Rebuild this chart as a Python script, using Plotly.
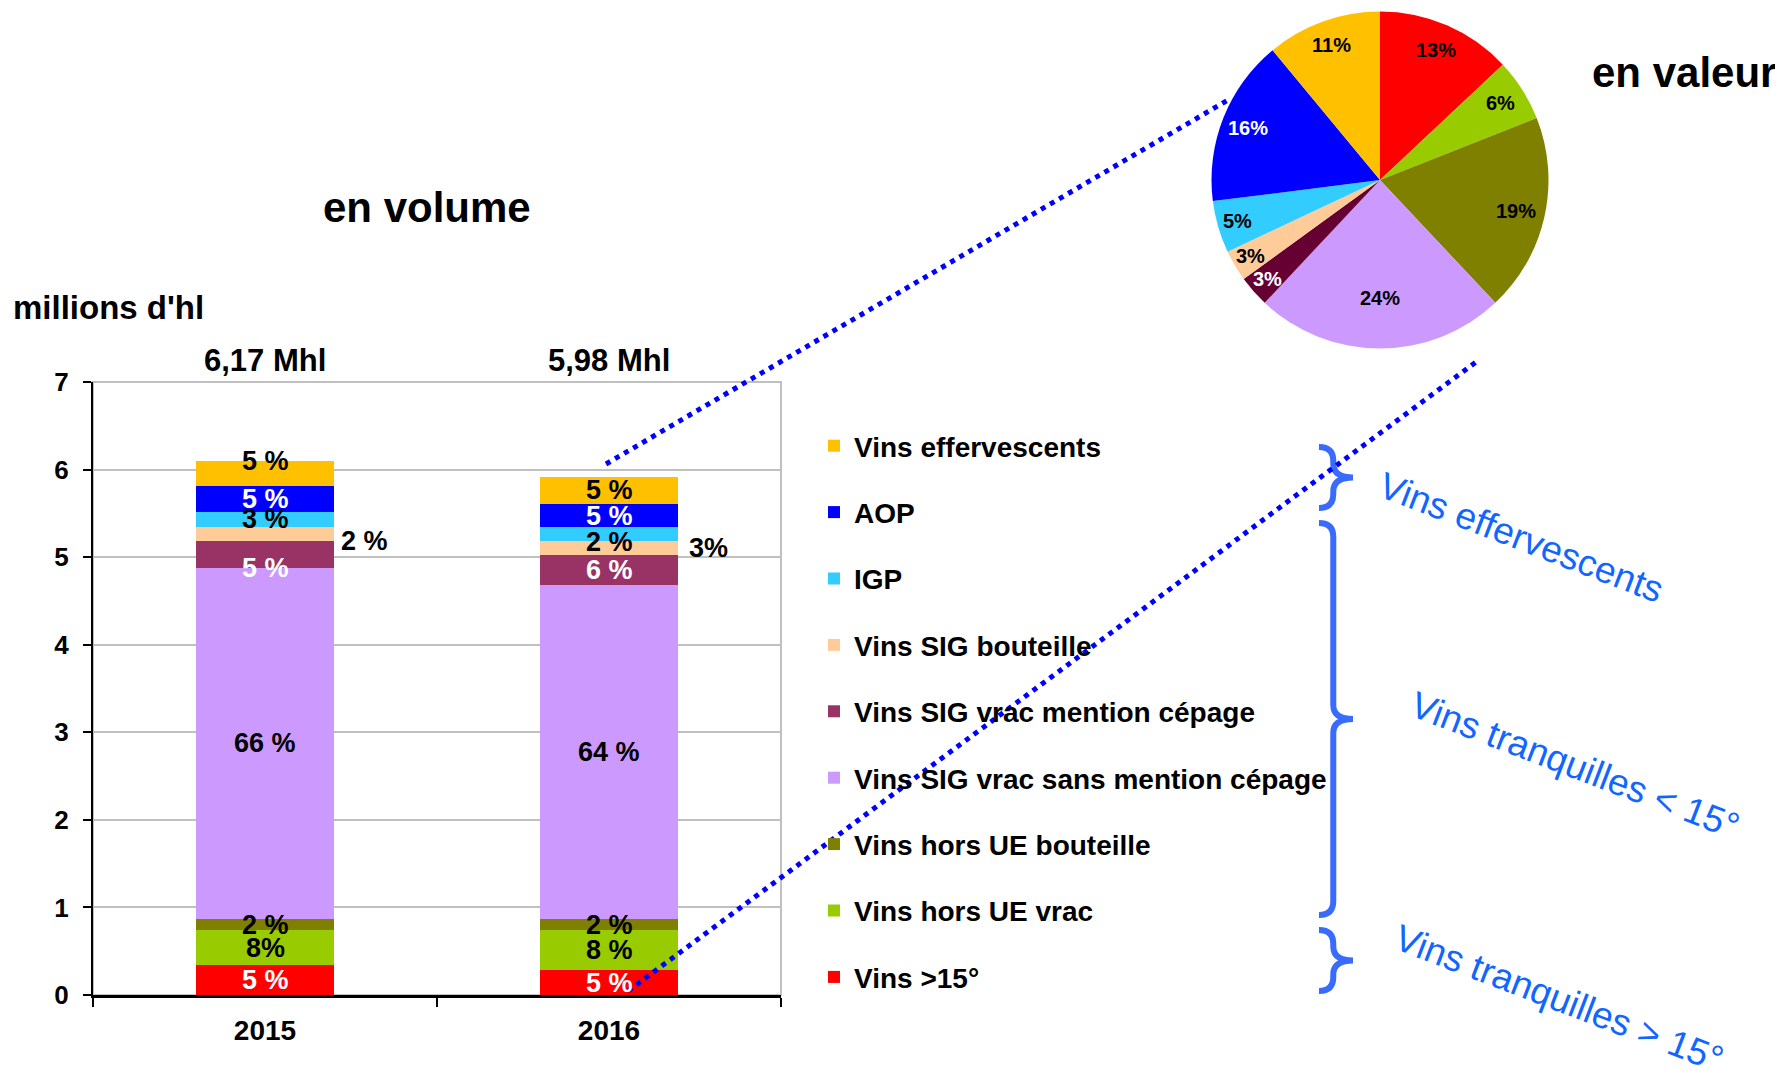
import numpy as np
import plotly.graph_objects as go

# The page body adds an 8px margin; the figure is sized to end at the window edge
OFF = 8
W, H = 1783 - OFF, 1074 - OFF
def px(x):
    return (x - OFF) / W
def py(y):
    return 1 - (y - OFF) / H

# ---------------- data ----------------
years = ["2015", "2016"]
segments = ["Vins >15°", "Vins hors UE vrac", "Vins hors UE bouteille",
            "Vins SIG vrac sans mention cépage", "Vins SIG vrac mention cépage",
            "Vins SIG bouteille", "IGP", "AOP", "Vins effervescents"]
vol_2015 = [0.34, 0.40, 0.13, 4.01, 0.30, 0.16, 0.18, 0.29, 0.29]
vol_2016 = [0.28, 0.46, 0.13, 3.81, 0.35, 0.15, 0.16, 0.27, 0.31]
pct_2015 = ["5 %", "8%", "2 %", "66 %", "5 %", "2 %", "3 %", "5 %", "5 %"]
pct_2016 = ["5 %", "8 %", "2 %", "64 %", "6 %", "3%", "2 %", "5 %", "5 %"]
totals = ["6,17 Mhl", "5,98 Mhl"]
pie_values = [13, 6, 19, 24, 3, 3, 5, 16, 11]
pie_labels = ["13%", "6%", "19%", "24%", "3%", "3%", "5%", "16%", "11%"]
y_ticks = [0, 1, 2, 3, 4, 5, 6, 7]

# ---------------- styles ----------------
FONT = "Liberation Sans, Arial, sans-serif"
bar_colors = ["#FF0000", "#99CC00", "#808000", "#CC99FF", "#993366",
              "#FFCC99", "#33CCFF", "#0000FF", "#FFC000"]
pie_colors = ["#FF0000", "#99CC00", "#808000", "#CC99FF", "#660033",
              "#FFCC99", "#33CCFF", "#0000FF", "#FFC000"]
bar_label_colors = ["white", "black", "black", "black", "white",
                    "black", "black", "white", "black"]
pie_label_colors = ["black", "black", "black", "black", "white",
                    "black", "black", "white", "black"]
pie_label_radius = [0.84, 0.85, 0.83, 0.70, 0.89, 0.89, 0.88, 0.84, 0.85]
outside_idx = 5  # peach labels are written beside the bar
label_yshift = {(0, 4): -13, (0, 8): 13, (1, 6): -8, (0, 5): -7}

# plot area (screen pixels)
PL, PR, PT, PB = 93, 781, 382, 995

fig = go.Figure()
for i, name in enumerate(segments):
    fig.add_trace(go.Bar(
        x=years, y=[vol_2015[i], vol_2016[i]], name=name,
        marker=dict(color=bar_colors[i], line=dict(width=0)),
        legendgroup=name, legendrank=100 - i, hoverinfo="skip",
    ))

# pie
fig.add_trace(go.Pie(
    values=pie_values, labels=segments, sort=False, direction="clockwise",
    rotation=0, marker=dict(colors=pie_colors, line=dict(width=0)),
    textinfo="none", showlegend=False, hoverinfo="skip",
    domain=dict(x=[px(1211.5), px(1548.5)], y=[py(348.5), py(11.5)]),
))

def txt(x, y, text, size, color="black", bold=True, angle=0, xanchor="center", **kw):
    return dict(x=x, y=y, text=("<b>%s</b>" % text) if bold else text, showarrow=False,
                xanchor=xanchor, yanchor="middle", textangle=angle,
                font=dict(family=FONT, size=size, color=color), **kw)

annotations = []
# bar labels (x as category index)
for j, (vols, pcts) in enumerate([(vol_2015, pct_2015), (vol_2016, pct_2016)]):
    cum = np.cumsum([0] + vols)
    for i in range(len(vols)):
        mid = (cum[i] + cum[i + 1]) / 2
        annotations.append(txt(j, mid, pcts[i], 27, bar_label_colors[i], xref="x", yref="y",
                               yshift=label_yshift.get((j, i), 0),
                               xshift=99 if i == outside_idx else 0))
# totals above bars
for j, t in enumerate(totals):
    annotations.append(txt(j, py(360), t, 31, xref="x", yref="paper"))

# pie labels computed from slice angles
cx, cy, r = 1380, 180, 168.5
cum = 0
for v, lab, c, f in zip(pie_values, pie_labels, pie_label_colors, pie_label_radius):
    m = (cum + v / 2) / sum(pie_values)
    th = np.deg2rad(90 - 360 * m)
    annotations.append(txt(px(cx + f * r * np.cos(th)), py(cy - f * r * np.sin(th)), lab, 20, c,
                           xref="paper", yref="paper"))
    cum += v

# titles
annotations += [
    txt(px(427), py(207), "en volume", 42, xref="paper", yref="paper"),
    txt(px(1684), py(72), "en valeur", 42, xref="paper", yref="paper"),
    txt(px(11), py(308), "millions d'hl", 33, xref="paper", yref="paper", xanchor="left"),
]
# rotated group labels
BLUE_TXT = "#1166FF"
for t, (x, y) in [("Vins effervescents", (1521, 537)),
                  ("Vins tranquilles < 15°", (1575, 765)),
                  ("Vins tranquilles > 15°", (1559, 998))]:
    annotations.append(txt(px(x), py(y), t, 37, BLUE_TXT, bold=False, angle=21,
                           xref="paper", yref="paper"))

# shapes
shapes = [dict(type="rect", xref="paper", yref="paper", x0=px(PL), x1=px(PR),
               y0=py(PB), y1=py(PT), line=dict(color="#C0C0C0", width=2), layer="below")]

def brace(xl, top, bot, w=34):
    xm = xl + w * 0.42
    tip = xl + w
    mid = (top + bot) / 2
    rr = min(14, (bot - top) / 4)
    d = "M %f,%f " % (px(xl), py(top))
    d += "Q %f,%f %f,%f " % (px(xm), py(top), px(xm), py(top + rr))
    d += "L %f,%f " % (px(xm), py(mid - rr))
    d += "Q %f,%f %f,%f " % (px(xm), py(mid), px(tip), py(mid))
    d += "Q %f,%f %f,%f " % (px(xm), py(mid), px(xm), py(mid + rr))
    d += "L %f,%f " % (px(xm), py(bot - rr))
    d += "Q %f,%f %f,%f" % (px(xm), py(bot), px(xl), py(bot))
    return dict(type="path", xref="paper", yref="paper", path=d,
                line=dict(color="#3A6BFF", width=6))

shapes += [brace(1319, 447, 508), brace(1319, 523, 915), brace(1319, 930, 991)]

for (x0, y0, x1, y1) in [(606, 464, 1228, 100), (628, 991, 1476, 362)]:
    shapes.append(dict(type="line", xref="paper", yref="paper", x0=px(x0), y0=py(y0),
                       x1=px(x1), y1=py(y1), line=dict(color="#0000FF", width=5, dash="5px,5.5px")))

fig.update_layout(
    width=W, height=H, margin=dict(l=0, r=0, t=0, b=0, autoexpand=False),
    paper_bgcolor="white", plot_bgcolor="white",
    barmode="stack", bargap=0.60,
    font=dict(family=FONT, color="black"),
    xaxis=dict(domain=[px(PL), px(PR)], type="category", range=[-0.5, 1.5], automargin=False,
               showline=True, linecolor="black",
               linewidth=3, ticks="outside", tickson="boundaries", ticklen=9, tickwidth=2,
               tickcolor="black", showgrid=False, ticklabelstandoff=8,
               tickfont=dict(family=FONT, size=28, color="black", weight="bold")),
    yaxis=dict(domain=[py(PB), py(PT)], range=[0, 7], tickvals=y_ticks, automargin=False,
               showline=True, linecolor="black", linewidth=2, ticks="outside", ticklen=8,
               tickwidth=2, tickcolor="black", showgrid=True, gridcolor="#C0C0C0", gridwidth=2,
               zeroline=False, ticklabelstandoff=9,
               tickfont=dict(family=FONT, size=26, color="black", weight="bold")),
    legend=dict(x=px(814), y=py(421), xanchor="left", yanchor="top",
                traceorder="grouped", tracegroupgap=27,
                font=dict(family=FONT, size=28, color="black", weight="bold"),
                bgcolor="rgba(0,0,0,0)"),
    annotations=annotations, shapes=shapes,
)

fig.write_html("out.html")
